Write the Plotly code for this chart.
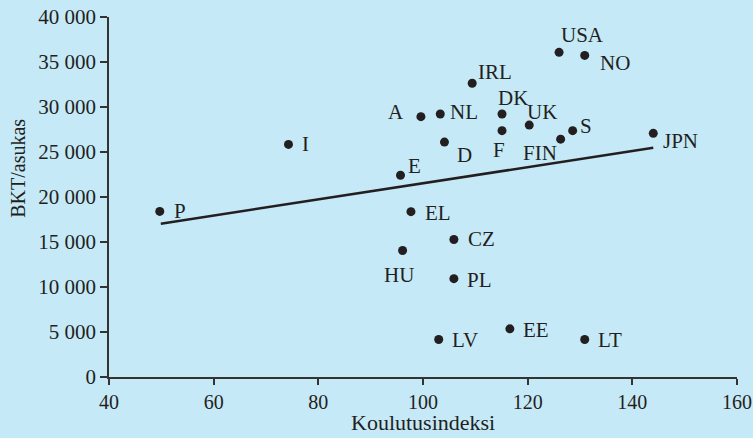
import plotly.graph_objects as go

# data
countries = ["P", "I", "USA", "NO", "IRL", "A", "NL", "DK", "UK", "F", "D", "FIN",
             "S", "JPN", "E", "EL", "CZ", "HU", "PL", "LV", "EE", "LT"]
koulutusindeksi = [49.7, 74.3, 126.0, 130.9, 109.4, 99.6, 103.3, 115.1, 120.3, 115.1, 104.1, 126.3,
                   128.6, 144.0, 95.7, 97.7, 105.9, 96.1, 105.9, 103.0, 116.6, 130.9]
bkt_asukas = [18400, 25840, 36070, 35730, 32640, 28930, 29220, 29220, 27990, 27370, 26100, 26430,
              27370, 27070, 22420, 18370, 15280, 14050, 10930, 4170, 5350, 4170]

trend_x = [49.9, 144.0]
trend_y = [17030, 25470]

# label offsets in pixels (dx right, dy down)
label_offsets = {
    "P": (20, 0), "I": (17, 0), "USA": (23, -17), "NO": (30, 8), "IRL": (23, -11),
    "A": (-25, -5), "NL": (24, -2), "DK": (11, -16), "UK": (13, -13), "F": (-3, 19),
    "D": (20, 13), "FIN": (-21, 14), "S": (13, -5), "JPN": (27, 8), "E": (14, -9),
    "EL": (27, 1), "CZ": (28, 0), "HU": (-4, 24), "PL": (26, 1), "LV": (26, 1),
    "EE": (26, 1), "LT": (25, 1),
}

bg = "#c6e9f8"
ink = "#231f20"
font = "Liberation Serif"

fig = go.Figure()

fig.add_trace(
    go.Scatter(
        x=trend_x,
        y=trend_y,
        mode="lines",
        line=dict(color=ink, width=2.5),
        showlegend=False,
        hoverinfo="skip",
    )
)

fig.add_trace(
    go.Scatter(
        x=koulutusindeksi,
        y=bkt_asukas,
        mode="markers",
        marker=dict(color=ink, size=9),
        text=countries,
        showlegend=False,
    )
)

for name, xv, yv in zip(countries, koulutusindeksi, bkt_asukas):
    dx, dy = label_offsets[name]
    fig.add_annotation(
        x=xv, y=yv, text=name, showarrow=False,
        xanchor="center", yanchor="middle",
        xshift=dx, yshift=-dy,
        font=dict(family=font, size=21, color=ink),
    )

# axis titles as annotations so they can sit where the original has them
fig.add_annotation(
    x=-0.144, y=0.58, xref="paper", yref="paper",
    text="BKT/asukas", textangle=-90, showarrow=False,
    xanchor="center", yanchor="middle",
    font=dict(family=font, size=20, color=ink),
)
fig.add_annotation(
    x=0.5, y=0, xref="paper", yref="paper",
    text="Koulutusindeksi", showarrow=False,
    xanchor="center", yanchor="bottom", yshift=-60,
    font=dict(family=font, size=22, color=ink),
)

fig.update_layout(
    width=753,
    height=438,
    paper_bgcolor=bg,
    plot_bgcolor=bg,
    margin=dict(l=109, r=16, t=17, b=61),
    font=dict(family=font, size=21, color=ink),
    separators=". ",
)

fig.update_xaxes(
    range=[40, 160],
    dtick=20,
    tick0=40,
    showgrid=False,
    zeroline=False,
    showline=True,
    linecolor="#333333",
    linewidth=1.5,
    ticks="outside",
    ticklen=6,
    tickwidth=1.5,
    tickcolor="#333333",
    tickfont=dict(size=20),
    automargin=False,
)

fig.update_yaxes(
    range=[0, 40000],
    dtick=5000,
    tickformat=",d",
    showgrid=False,
    zeroline=False,
    showline=True,
    linecolor="#333333",
    linewidth=1.5,
    ticks="outside",
    ticklen=7,
    tickwidth=1.5,
    tickcolor="#333333",
    automargin=False,
)

# drop the default page margin so the figure fills the window
fig.write_html(
    "out.html",
    config={"displayModeBar": False},
    post_script="document.body.style.margin='0';document.body.style.background='%s';" % bg,
)
